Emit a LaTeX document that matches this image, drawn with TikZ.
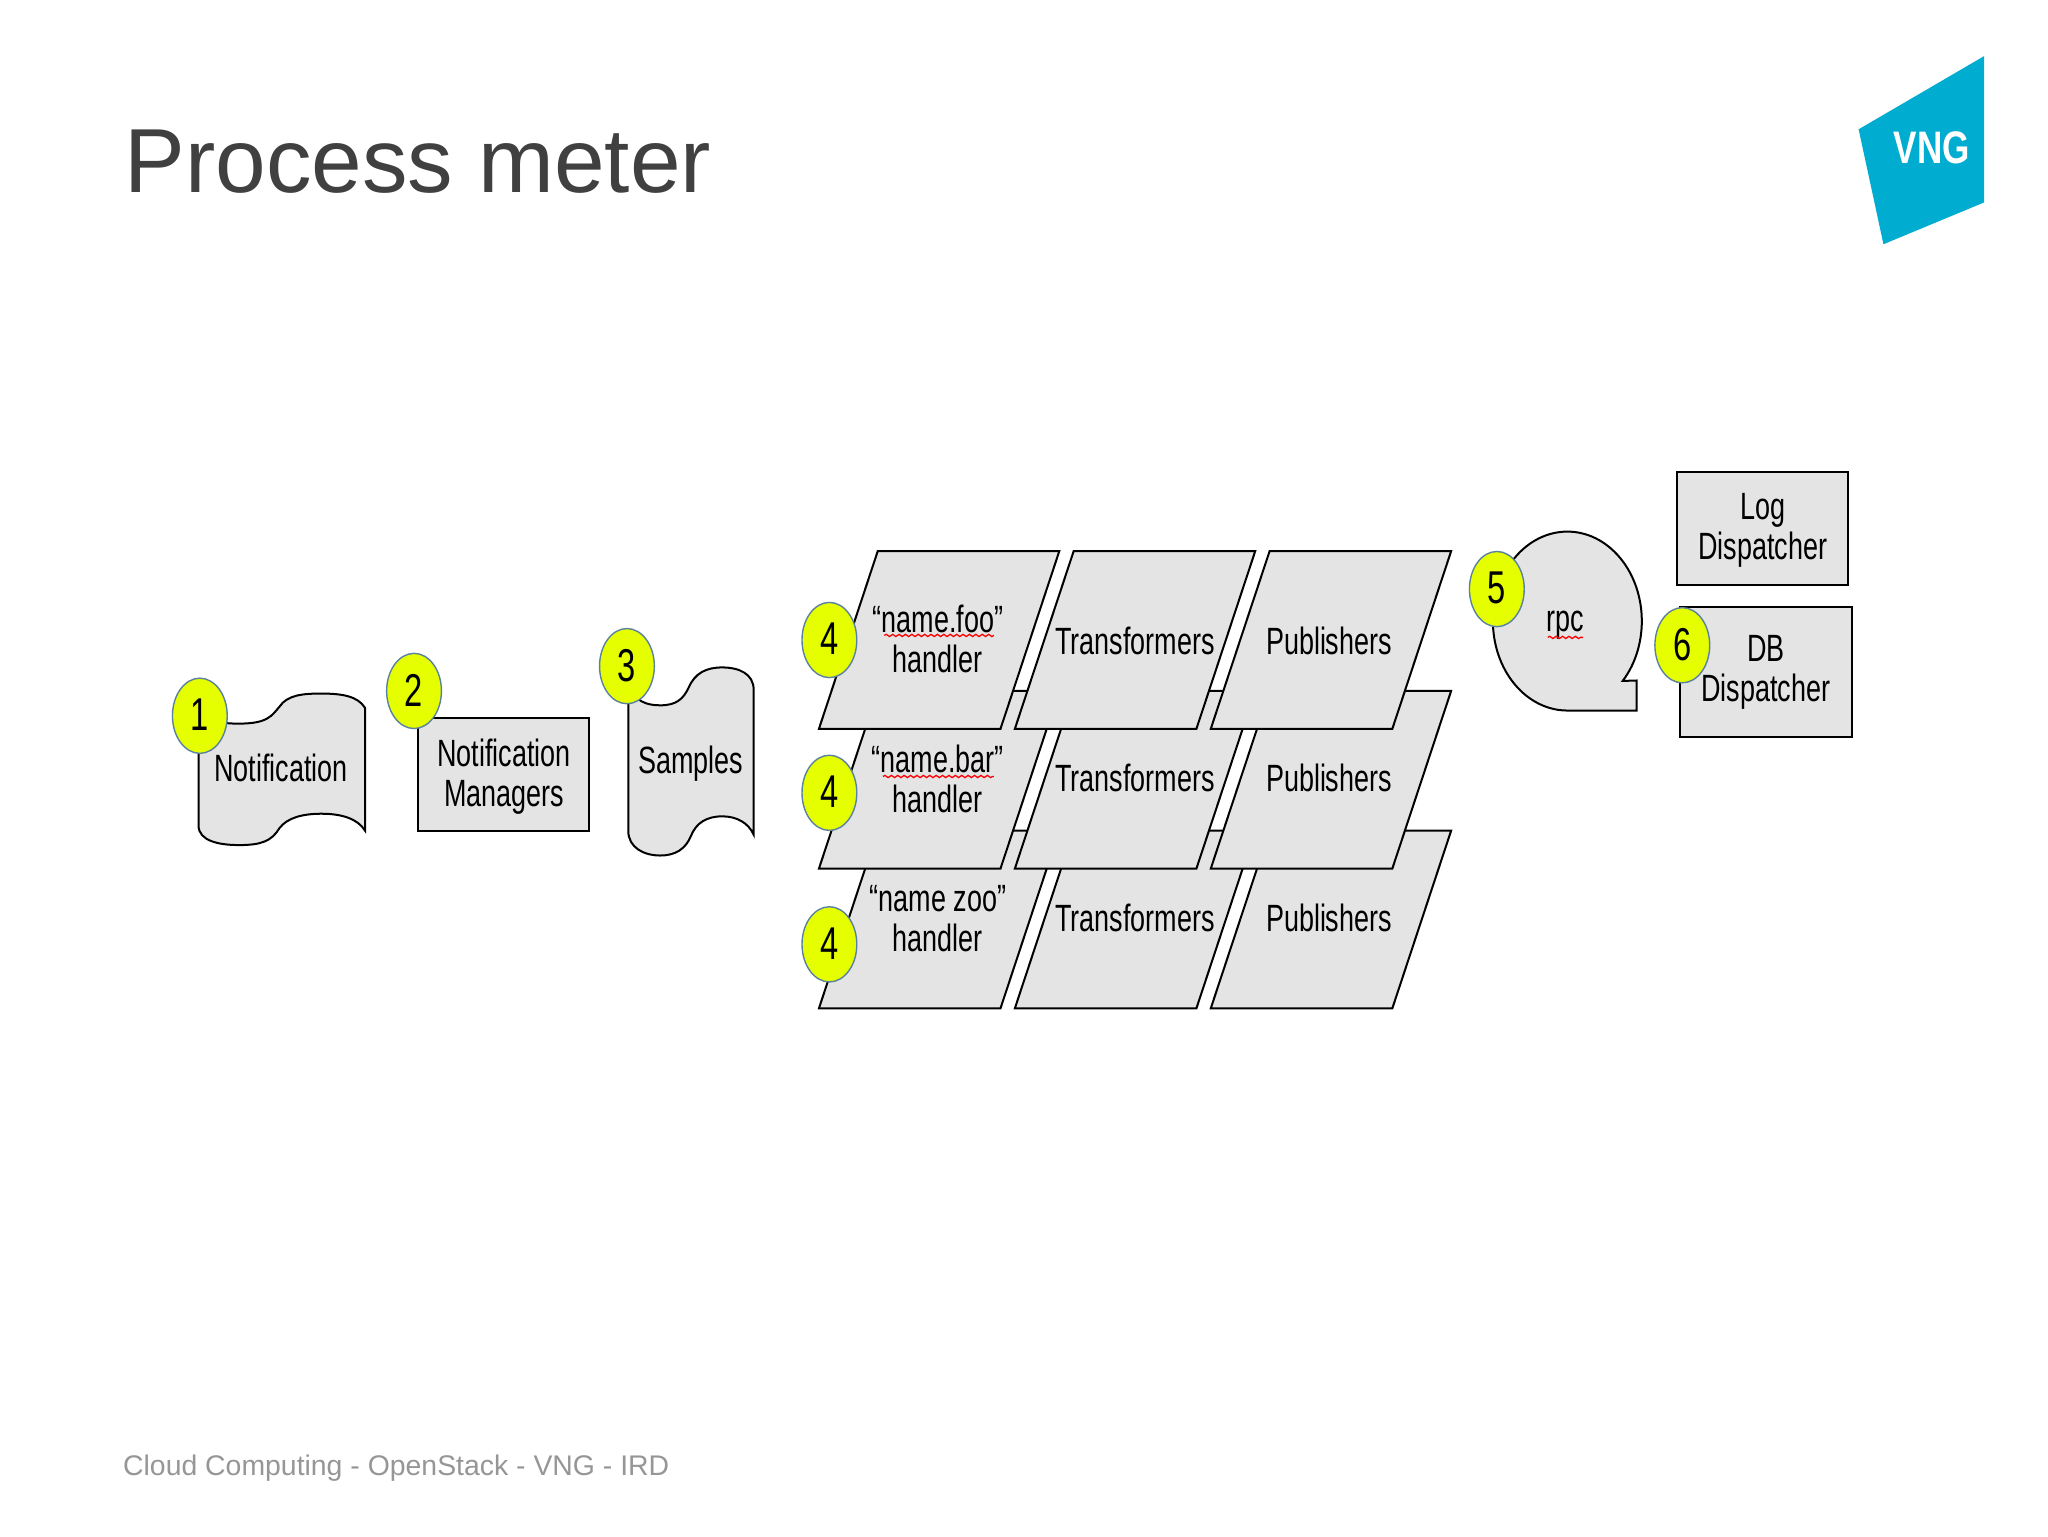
\documentclass[tikz,border=0pt]{standalone}
\usepackage{fontspec}
\setmainfont{Liberation Sans}
\newfontfamily\boxfont[FakeStretch=0.71]{Liberation Sans}
\newfontfamily\logofont[FakeStretch=0.77]{Liberation Sans}
\usetikzlibrary{shapes.geometric,decorations.pathmorphing}

\tikzset{
  shapeline/.style={draw=black,line width=1pt,fill=boxgray},
  boxtext/.style={font=\boxfont\fontsize{19}{20}\selectfont,align=center,text=black,inner sep=0pt},
  stepmark/.style={ellipse,draw=markblue,line width=.7pt,fill=markyellow,inner sep=0pt,
    minimum width=27.4pt,minimum height=37.6pt,text=black,
    font=\boxfont\fontsize{23}{23}\selectfont},
  spellline/.style={draw=red,line width=.65pt,decorate,
    decoration={snake,amplitude=.55pt,segment length=3.2pt}}
}

\begin{document}
\begin{tikzpicture}[x=.65306pt,y=.65306pt,yscale=-1]
 \definecolor{boxgray}{RGB}{228,228,228}
 \definecolor{markyellow}{RGB}{229,255,0}
 \definecolor{markblue}{RGB}{90,130,160}
 \definecolor{titlegray}{RGB}{64,64,64}
 \definecolor{footgray}{RGB}{150,150,150}
 \definecolor{vngblue}{RGB}{0,172,208}
 \useasboundingbox (0,0) rectangle (1568,1176);
 % header and footer
 \node[anchor=base west,inner sep=0pt,text=titlegray,font=\fontsize{45.5}{50}\selectfont]
   (title) at (95,147.5) {Process meter};
 \node[anchor=base west,inner sep=0pt,text=footgray,font=\fontsize{14.2}{18}\selectfont]
   (foot) at (94,1130) {Cloud Computing - OpenStack - VNG - IRD};
 \fill[vngblue] (1423,99) -- (1519,43) -- (1519,155) -- (1442,187) -- cycle;
 \node[inner sep=0pt,text=white,font=\logofont\bfseries\fontsize{22.8}{23}\selectfont]
   (vng) at (1479,113.5) {VNG};
 % notification and samples
 \draw[shapeline] (152,542) .. controls (160,553) and (170,554) .. (183,554)
   .. controls (205,554) and (208,548) .. (214,541)
   .. controls (220,532) and (232,531) .. (246,531)
   .. controls (262,531) and (274,533) .. (279.5,542)
   -- (279.5,636) .. controls (274,627) and (262,623) .. (246,623)
   .. controls (232,623) and (220,626) .. (214,634)
   .. controls (208,644) and (200,647) .. (183,647)
   .. controls (168,647) and (152,644) .. (152,632) -- cycle;
 \node[boxtext] (notif) at (215,588) {Notification};
 \draw[shapeline] (481,526) .. controls (487,537) and (495,540) .. (505.5,540)
   .. controls (518,540) and (523,535) .. (527,527)
   .. controls (532,515) and (541,511) .. (553,511)
   .. controls (566,511) and (577,516) .. (577,528)
   -- (577,639) .. controls (573,630) and (564,625) .. (553,625)
   .. controls (541,625) and (533,630) .. (529,640)
   .. controls (525,650) and (517,655) .. (505.5,655)
   .. controls (493,655) and (481,649) .. (481,636) -- cycle;
 \node[boxtext] (samples) at (529,585) {Samples};
 \draw[shapeline] (320,550) rectangle (451,636);
 \node[boxtext] (managers) at (386,595) {Notification\\Managers};
 % handler rows, lowest one first
 \foreach \yp/\ty/\hname in {636/702.5/name zoo,529/595.5/name.bar,422/490.5/name.foo} {
   \foreach \xp in {627, 777, 927} {
     \path[shapeline] (\xp,\yp+136) -- (\xp+45,\yp) -- (\xp+184,\yp)
       -- (\xp+139,\yp+136) -- cycle;
   }
   \node[boxtext] at (718,\yp+67.5) {“\hname”\\handler};
   \node[boxtext] at (869,\ty) {Transformers};
   \node[boxtext] at (1017.5,\ty) {Publishers};
 }
 \draw[spellline] (677,486.5) -- (761,486.5);
 \draw[spellline] (676,594.5) -- (761,594.5);
 % rpc and dispatchers
 \draw[shapeline] (1200,475.5)+(42:57 and 68.5)
   arc[start angle=42,end angle=-270,x radius=57,y radius=68.5]
   -- (1253,544) -- (1253,521) -- cycle;
 \node[boxtext] (rpc) at (1198,479) {rpc};
 \draw[spellline] (1185,488) -- (1212,488);
 \draw[shapeline] (1284,361) rectangle (1415,448);
 \node[boxtext] (logdisp) at (1349.5,406) {Log\\Dispatcher};
 \draw[shapeline] (1286,465) rectangle (1418,564);
 \node[boxtext] (dbdisp) at (1352,515) {DB\\Dispatcher};
 % step marks
 \foreach \markname/\xp/\yp/\num in {
   a/153/548/1, b/317/529/2, c/480/510/3, d/635/490/4, e/635/607/4,
   f/635/723/4, g/1146/451/5, h/1288/494/6} {
   \node[stepmark] (mark\markname) at (\xp,\yp) {\raisebox{1pt}{\num}};
 }
\end{tikzpicture}
\end{document}
